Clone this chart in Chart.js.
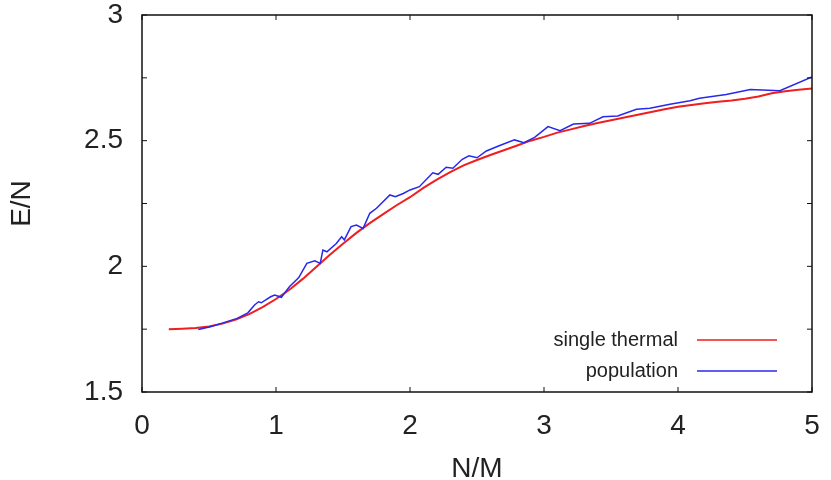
<!DOCTYPE html>
<html>
<head>
<meta charset="utf-8">
<script src="https://cdn.jsdelivr.net/npm/chart.js@4"></script>
<style>
  body { margin: 0; background: #fff; }
  #wrap { width: 831px; height: 480px; }
</style>
</head>
<body>
<div id="wrap"><canvas id="c" width="831" height="480"></canvas></div>
<script>
// single thermal curve
const thermX = [0.2,0.3,0.4,0.5,0.6,0.7,0.8,0.9,1.0,1.1,1.2,1.3,1.4,1.5,1.6,1.7,1.8,1.9,2.0,
  2.1,2.2,2.3,2.4,2.5,2.6,2.7,2.8,2.9,3.0,3.1,3.2,3.3,3.4,3.5,3.6,3.7,3.8,3.9,4.0,
  4.1,4.2,4.3,4.4,4.5,4.6,4.7,4.8,4.9,5.0]
const thermY = [1.750,1.752,1.755,1.761,1.772,1.788,1.810,1.838,1.870,1.907,1.950,1.997,2.045,2.090,2.133,2.172,2.208,2.243,2.275,
  2.312,2.345,2.375,2.402,2.423,2.443,2.462,2.481,2.500,2.515,2.532,2.545,2.558,2.570,2.581,2.592,2.603,2.614,2.625,2.635,
  2.642,2.649,2.655,2.660,2.667,2.676,2.689,2.697,2.703,2.708]

// population curve
const popX = [0.42,0.51,0.61,0.71,0.79,0.84,0.87,0.89,0.96,0.99,1.04,1.10,1.17,1.23,1.29,1.33,1.35,1.38,1.45,1.49,1.51,
  1.56,1.60,1.65,1.70,1.75,1.85,1.89,1.95,2.00,2.07,2.17,2.21,2.27,2.32,2.39,2.44,2.50,2.57,2.67,2.78,2.85,2.93,
  3.03,3.12,3.22,3.34,3.44,3.55,3.69,3.79,3.94,4.09,4.16,4.36,4.54,4.76,5.00]
const popY = [1.749,1.760,1.776,1.793,1.815,1.846,1.859,1.855,1.879,1.886,1.877,1.919,1.955,2.012,2.022,2.012,2.065,2.058,2.091,2.118,2.105,
  2.158,2.164,2.151,2.211,2.231,2.284,2.277,2.290,2.304,2.317,2.372,2.366,2.394,2.390,2.426,2.440,2.432,2.459,2.481,2.503,2.492,2.513,
  2.556,2.540,2.566,2.569,2.595,2.598,2.625,2.629,2.645,2.659,2.669,2.684,2.704,2.699,2.754]

const seriesLabels = ['single thermal', 'population']
const seriesColors = ['rgb(240,30,30)', 'rgb(40,40,235)']

const xTitle = 'N/M', yTitle = 'E/N'
const font = 'Liberation Sans, Arial, Helvetica, sans-serif'

function pairs(xs, ys){
	const out = []
	for(let i=0; i < xs.length; i++) out.push({x: xs[i], y: ys[i]})
	return out
}

// gnuplot style frame with inward ticks on all four sides
const framePlugin = {
	id: 'frame',
	afterDraw(chart){
		const ctx = chart.ctx, a = chart.chartArea, tl = 5
		ctx.save()
		ctx.strokeStyle = '#111'
		ctx.lineWidth = 1.5
		ctx.strokeRect(a.left, a.top, a.right - a.left, a.bottom - a.top)
		ctx.lineWidth = 1
		chart.scales.x.ticks.forEach(t => {
			const px = chart.scales.x.getPixelForValue(t.value)
			ctx.beginPath()
			ctx.moveTo(px, a.bottom); ctx.lineTo(px, a.bottom - tl)
			ctx.moveTo(px, a.top); ctx.lineTo(px, a.top + tl)
			ctx.stroke()
		})
		chart.scales.y.ticks.forEach(t => {
			const py = chart.scales.y.getPixelForValue(t.value)
			ctx.beginPath()
			ctx.moveTo(a.left, py); ctx.lineTo(a.left + tl, py)
			ctx.moveTo(a.right, py); ctx.lineTo(a.right - tl, py)
			ctx.stroke()
		})
		ctx.restore()
	}
}

// key in the lower right, text right aligned, sample line after it
const keyPlugin = {
	id: 'key',
	afterDraw(chart){
		const ctx = chart.ctx, a = chart.chartArea
		const lineEnd = a.right - 35, lineStart = lineEnd - 80, textRight = lineStart - 19
		ctx.save()
		ctx.font = '20px ' + font
		ctx.textAlign = 'right'
		ctx.textBaseline = 'middle'
		seriesLabels.forEach((lab, i) => {
			const y = a.bottom - 52 + i * 31
			ctx.fillStyle = '#222'
			ctx.fillText(lab, textRight, y)
			ctx.strokeStyle = seriesColors[i]
			ctx.lineWidth = 1.5
			ctx.beginPath()
			ctx.moveTo(lineStart, y); ctx.lineTo(lineEnd, y)
			ctx.stroke()
		})
		ctx.restore()
	}
}

const data = {
	datasets: [{
		label: seriesLabels[0],
		data: pairs(thermX, thermY),
		borderColor: seriesColors[0],
		borderWidth: 2,
		pointRadius: 0,
		tension: 0,
		order: 2
	}, {
		label: seriesLabels[1],
		data: pairs(popX, popY),
		borderColor: seriesColors[1],
		borderWidth: 1.5,
		pointRadius: 0,
		tension: 0,
		order: 1
	}]
}

const config = {
	type: 'line',
	data: data,
	plugins: [framePlugin, keyPlugin],
	options: {
		responsive: false,
		animation: false,
		layout: { padding: { left: 0, right: 19, top: 15, bottom: 0 } },
		plugins: { legend: { display: false }, tooltip: { enabled: false } },
		scales: {
			x: {
				type: 'linear', min: 0, max: 5,
				grid: { display: false, drawTicks: false },
				border: { display: false },
				ticks: { stepSize: 1, padding: 17, color: '#222', font: { family: font, size: 28 } },
				title: { display: true, text: xTitle, color: '#222', font: { family: font, size: 28 }, padding: { top: 0, bottom: -6 } },
				afterFit(s){ s.height = 88; s.paddingLeft = 0; s.paddingRight = 0 }
			},
			y: {
				type: 'linear', min: 1.5, max: 3,
				grid: { display: false, drawTicks: false },
				border: { display: false },
				ticks: {
					stepSize: 0.25, autoSkip: false, padding: 19, color: '#222',
					font: { family: font, size: 28 },
					callback: v => Math.abs(v * 2 - Math.round(v * 2)) < 1e-6 ? v : ''
				},
				title: { display: true, text: yTitle, color: '#222', font: { family: font, size: 28 }, padding: { top: 5, bottom: 0 } },
				afterFit(s){ s.width = 142; s.paddingTop = 0; s.paddingBottom = 0 }
			}
		}
	}
}

new Chart(document.getElementById('c').getContext('2d'), config)
</script>
</body>
</html>
